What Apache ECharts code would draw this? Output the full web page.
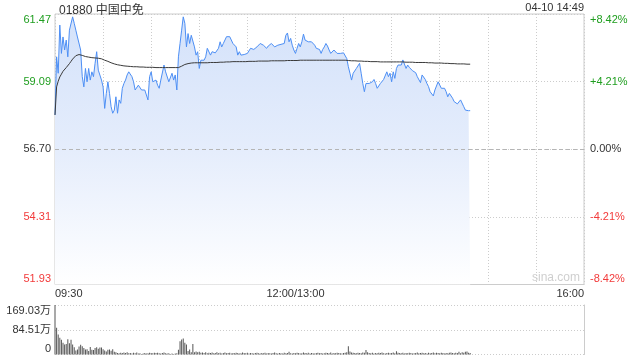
<!DOCTYPE html>
<html><head><meta charset="utf-8">
<script src="https://cdn.jsdelivr.net/npm/echarts@6/dist/echarts.min.js"></script>
<style>html,body{margin:0;padding:0;background:#fff}#c{width:640px;height:360px}</style>
</head><body><div id="c"></div>
<script>
const stockName = '01880 中国中免';
const timeStamp = '04-10 14:49';
const prevClose = 56.70;
const xTickLabels = {0: '09:30', 150: '12:00/13:00', 330: '16:00'};
const priceTicks = ['51.93', '54.31', '56.70', '59.09', '61.47'];
const pctTicks = ['-8.42%', '-4.21%', '0.00%', '+4.21%', '+8.42%'];
const volTicks = ['0', '84.51万', '169.03万'];

const price = [
57.91,59.96,59.38,61.08,60.08,60.66,60.20,60.55,59.96,60.90,
60.96,61.37,61.14,60.90,60.66,60.61,60.20,59.26,58.90,59.55,
59.08,59.55,59.14,59.43,59.26,59.73,60.14,59.49,59.49,59.14,
58.90,58.14,58.67,59.08,58.67,58.20,57.97,58.08,58.55,57.97,
58.44,58.32,58.85,59.02,59.14,59.32,59.43,59.43,59.26,59.08,
58.79,58.79,58.96,58.96,58.79,58.73,58.79,58.85,58.44,59.26,
59.43,59.08,59.08,59.14,58.96,58.85,59.14,59.20,59.67,59.43,
59.43,59.08,59.08,59.38,59.14,59.32,58.79,59.96,60.43,60.90,
61.37,61.14,60.31,60.78,60.43,60.72,60.78,60.31,60.02,60.14,
59.55,59.84,59.78,59.84,59.96,60.26,60.20,60.02,60.14,60.08,
60.10,60.14,60.26,60.49,60.31,60.43,60.37,60.67,60.69,60.67,
60.72,60.43,60.37,60.31,60.02,60.14,60.02,59.98,60.04,60.05,
60.08,60.02,60.26,60.30,60.22,60.26,60.31,60.37,60.43,60.46,
60.37,60.31,60.26,60.34,60.37,60.43,60.39,60.31,60.34,60.37,
60.40,60.40,60.43,60.43,60.72,60.80,60.49,60.61,60.37,60.20,
60.08,60.26,60.43,60.31,60.49,60.76,60.55,60.58,60.49,60.49,
60.49,60.49,60.37,60.26,60.26,60.22,60.08,60.22,60.31,60.43,
60.34,60.20,60.08,60.10,60.20,60.20,60.08,60.02,60.08,60.04,
60.10,60.06,59.90,59.61,59.38,59.14,59.38,59.43,59.55,59.49,
59.73,59.38,59.02,58.73,59.02,59.05,59.02,59.05,59.08,59.16,
59.02,58.85,58.79,59.02,59.08,59.16,59.20,59.43,59.26,59.38,
59.08,59.43,59.20,59.55,59.67,59.61,59.67,59.85,59.79,59.55,
59.67,59.59,59.52,59.47,59.43,59.40,59.26,59.20,59.05,59.32,
59.26,59.16,59.02,58.91,58.73,58.67,58.58,58.79,58.85,59.08,
59.12,58.85,58.79,58.85,58.73,58.55,58.67,58.61,58.50,58.38,
58.32,58.30,58.32,58.44,58.46,58.20,58.08,58.03,58.06,58.06
];

const avgPrice = [
57.91,58.90,59.10,59.25,59.35,59.45,59.52,59.58,59.65,59.72,
59.80,59.88,59.95,60.00,60.03,60.04,60.03,60.01,59.98,59.97,
59.96,59.95,59.94,59.93,59.93,59.92,59.92,59.91,59.90,59.89,
59.86,59.84,59.82,59.80,59.78,59.75,59.73,59.71,59.70,59.68,
59.67,59.66,59.65,59.64,59.64,59.63,59.63,59.62,59.62,59.61,
59.61,59.61,59.60,59.60,59.60,59.60,59.59,59.59,59.59,59.59,
59.59,59.59,59.58,59.58,59.58,59.58,59.58,59.58,59.58,59.58,
59.58,59.58,59.58,59.58,59.58,59.58,59.58,59.58,59.60,59.63,
59.66,59.69,59.70,59.72,59.73,59.74,59.75,59.75,59.75,59.75,
59.75,59.75,59.75,59.75,59.75,59.75,59.76,59.76,59.76,59.76,
59.76,59.76,59.77,59.77,59.77,59.77,59.78,59.78,59.78,59.78,
59.79,59.79,59.79,59.79,59.79,59.79,59.79,59.79,59.79,59.79,
59.80,59.80,59.80,59.80,59.80,59.80,59.80,59.81,59.81,59.81,
59.81,59.81,59.81,59.81,59.81,59.82,59.82,59.82,59.82,59.82,
59.82,59.82,59.82,59.82,59.83,59.83,59.83,59.83,59.83,59.83,
59.83,59.83,59.83,59.84,59.84,59.84,59.84,59.84,59.84,59.84,
59.84,59.84,59.84,59.84,59.84,59.84,59.84,59.84,59.84,59.84,
59.84,59.84,59.84,59.84,59.84,59.84,59.84,59.84,59.84,59.84,
59.84,59.84,59.84,59.83,59.83,59.82,59.82,59.82,59.82,59.81,
59.81,59.81,59.80,59.80,59.80,59.80,59.80,59.79,59.79,59.79,
59.79,59.79,59.79,59.78,59.78,59.78,59.78,59.78,59.78,59.78,
59.78,59.78,59.78,59.78,59.78,59.78,59.78,59.78,59.78,59.77,
59.77,59.77,59.77,59.77,59.77,59.76,59.76,59.76,59.76,59.76,
59.76,59.76,59.75,59.75,59.75,59.75,59.75,59.74,59.74,59.74,
59.74,59.74,59.73,59.73,59.73,59.73,59.72,59.72,59.72,59.72,
59.72,59.71,59.71,59.71,59.71,59.71,59.70,59.70,59.70,59.70
];

const volume = [
169.03,91,68,57,50,40,34,36,52,38,
50,34,25,14,17,27,33,28,22,17,
18,12,26,16,15,22,25,20,24,24,
18,14,10,16,17,13,18,9,8,5,
4,6,5,7,5,8,4,5,3,6,
4,7,3,4,2,3,5,3,4,6,
5,4,6,5,6,4,3,5,7,4,
3,4,2,3,2,3,4,16,45,51,
55,40,34,12,17,8,36,8,10,8,
9,6,7,5,8,4,6,5,7,4,
5,8,4,6,3,5,7,4,5,6,
3,5,4,6,5,3,4,7,5,4,
6,3,5,4,3,5,6,4,3,5,
4,6,3,5,4,3,5,7,4,3,
5,4,3,6,4,5,9,4,3,5,
4,6,5,3,4,7,5,4,6,3,
5,4,3,5,6,4,5,3,4,6,
5,4,7,3,5,4,6,5,4,3,
5,6,8,28,10,7,6,5,4,6,
5,4,7,6,15,8,5,4,6,3,
5,4,6,5,7,4,3,5,6,4,
5,7,4,11,6,5,4,6,3,5,
4,6,5,3,4,5,7,4,5,6,
4,5,3,6,4,5,7,4,6,5,
4,6,5,3,5,4,6,7,5,4,
6,5,9,4,8,6,9,10,6,5
];

const FONT = 'Arial, "Liberation Sans", "Noto Sans CJK SC", sans-serif';
const GREEN = '#1f9e1f', RED = '#f23a3a', DARK = '#333';
const tickColor = (i) => i < 2 ? RED : (i === 2 ? DARK : GREEN);

const chart = echarts.init(document.getElementById('c'), null, {renderer: 'canvas'});
const pMin = 51.93, pMax = 61.47, pInt = 2.385;

chart.setOption({
  animation: false,
  backgroundColor: '#fff',
  textStyle: {fontFamily: FONT},
  title: {
    text: stockName, left: 54, top: 0,
    textStyle: {fontSize: 12, fontWeight: 'normal', color: DARK, fontFamily: FONT}
  },
  graphic: [
    {type: 'text', right: 56, top: 2, style: {text: timeStamp, fontSize: 11, fill: DARK, font: '11px ' + FONT}},
    {type: 'text', left: 532, top: 272, style: {text: 'sina.com', fill: '#cfcfcf', font: '12px ' + FONT}}
  ],
  grid: [
    {left: 55, right: 56, top: 14, height: 270.5, show: true, borderColor: '#cccccc', borderWidth: 1, backgroundColor: 'transparent'},
    {left: 55, right: 56, top: 305, height: 49.5, show: false}
  ],
  xAxis: [
    {
      type: 'value', gridIndex: 0, min: 0, max: 330, interval: 30,
      axisLine: {show: false}, axisTick: {show: false},
      axisLabel: {
        show: true, margin: 4, fontSize: 11, color: DARK, fontFamily: FONT,
        alignMinLabel: 'left', alignMaxLabel: 'right',
        formatter: (v) => xTickLabels[v] !== undefined ? xTickLabels[v] : ''
      },
      splitLine: {show: true, lineStyle: {color: '#cccccc', type: [1, 2], width: 1}}
    },
    {
      type: 'value', gridIndex: 1, min: 0, max: 330, interval: 30,
      axisLine: {show: false}, axisTick: {show: false}, axisLabel: {show: false},
      splitLine: {show: false}
    }
  ],
  yAxis: [
    {
      type: 'value', gridIndex: 0, min: pMin, max: pMax, interval: pInt, position: 'left',
      axisLine: {show: false}, axisTick: {show: false},
      axisLabel: {
        margin: 4, fontSize: 11, fontFamily: FONT,
        verticalAlignMinLabel: 'bottom', verticalAlignMaxLabel: 'top',
        formatter: (v, i) => priceTicks[i],
        color: (v, i) => tickColor(i)
      },
      splitLine: {show: true, lineStyle: {color: '#cccccc', type: [1, 2], width: 1}}
    },
    {
      type: 'value', gridIndex: 0, min: pMin, max: pMax, interval: pInt, position: 'right',
      axisLine: {show: false}, axisTick: {show: false},
      axisLabel: {
        margin: 6, fontSize: 11, fontFamily: FONT,
        verticalAlignMinLabel: 'bottom', verticalAlignMaxLabel: 'top',
        formatter: (v, i) => pctTicks[i],
        color: (v, i) => tickColor(i)
      },
      splitLine: {show: false}
    },
    {
      type: 'value', gridIndex: 1, min: 0, max: 169.03, interval: 84.515, position: 'left',
      axisLine: {show: false}, axisTick: {show: false},
      axisLabel: {
        margin: 4, fontSize: 11, color: DARK, fontFamily: FONT,
        verticalAlignMinLabel: 'bottom', verticalAlignMaxLabel: 'top',
        formatter: (v, i) => volTicks[i]
      },
      splitLine: {show: true, lineStyle: {color: '#cccccc', type: [1, 2], width: 1}}
    },
    {
      type: 'value', gridIndex: 1, min: 0, max: 169.03, position: 'right',
      axisLine: {show: true, lineStyle: {color: '#cccccc', width: 1}},
      axisTick: {show: false}, axisLabel: {show: false}, splitLine: {show: false}
    }
  ],
  series: [
    {
      name: 'price', type: 'line', xAxisIndex: 0, yAxisIndex: 0,
      data: price.map((v, i) => [i, v]),
      showSymbol: false, symbol: 'none',
      lineStyle: {color: '#4d8ff5', width: 1},
      areaStyle: {
        origin: 'start', opacity: 1,
        color: {type: 'linear', x: 0, y: 0, x2: 0, y2: 1, colorStops: [
          {offset: 0, color: 'rgb(212,226,250)'},
          {offset: 0.5, color: 'rgb(229,237,252)'},
          {offset: 1, color: 'rgb(255,255,255)'}
        ]}
      },
      markLine: {
        silent: true, symbol: 'none', label: {show: false},
        lineStyle: {color: '#b5b5b5', type: [4, 3], width: 1},
        data: [{yAxis: prevClose}]
      },
      z: 3
    },
    {
      name: 'avg', type: 'line', xAxisIndex: 0, yAxisIndex: 0,
      data: avgPrice.map((v, i) => [i, v]),
      showSymbol: false, symbol: 'none',
      lineStyle: {color: '#3a3a3a', width: 1},
      z: 4
    },
    {
      name: 'volume', type: 'bar', xAxisIndex: 1, yAxisIndex: 2,
      data: volume.map((v, i) => [i, v]),
      barWidth: 1,
      itemStyle: {color: '#555555'}
    }
  ]
});
</script>
</body></html>
